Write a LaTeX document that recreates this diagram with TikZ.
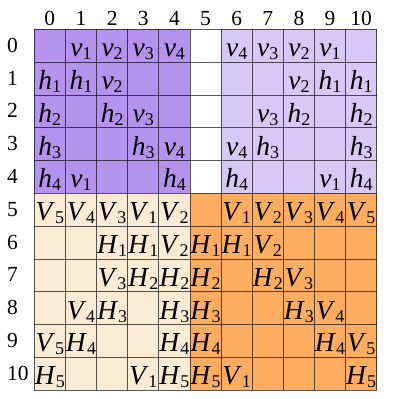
\documentclass[tikz,border=0pt]{standalone}
\usepackage{fontspec}
\setmainfont{Liberation Serif}
\definecolor{pdark}{RGB}{180,146,238}
\definecolor{plight}{RGB}{216,200,245}
\definecolor{cream}{RGB}{252,235,212}
\definecolor{orng}{RGB}{255,173,96}
\newcommand\lbl[2]{\textit{#1}\raisebox{-3pt}{\fontsize{18}{18}\selectfont #2}}
\tikzset{
  gridline/.style={draw=black, draw opacity=0.65, line width=0.7pt},
  celltext/.style={inner sep=0pt, anchor=base, font=\fontsize{27.5}{30}\selectfont},
  idxlabel/.style={inner sep=0pt, font=\fontsize{21.5}{24}\selectfont}
}
\begin{document}
\begin{tikzpicture}
\useasboundingbox (0pt,0pt) rectangle (399pt,-399pt);
\begin{scope}[shift={(34.3pt,-29.3pt)}, x=31.13pt, y=-32.8pt]
  \fill[pdark] (0,0) rectangle (5,5);
  \fill[plight] (6,0) rectangle (11,5);
  \fill[cream] (0,5) rectangle (5,11);
  \fill[orng] (5,5) rectangle (11,11);
  \foreach \i in {0,...,11} {
    \draw[gridline] (\i,0) -- (\i,11);
    \draw[gridline] (0,\i) -- (11,\i);
  }
  \foreach \c in {0,...,10}
    \node[idxlabel, anchor=base] (col\c) at ({\c+0.5},0) [yshift=4.3pt] {\c};
  \foreach \r/\c/\l/\s in {
    0/1/v/1, 0/2/v/2, 0/3/v/3, 0/4/v/4, 0/6/v/4, 0/7/v/3, 0/8/v/2, 0/9/v/1,
    1/0/h/1, 1/1/h/1, 1/2/v/2, 1/8/v/2, 1/9/h/1, 1/10/h/1,
    2/0/h/2, 2/2/h/2, 2/3/v/3, 2/7/v/3, 2/8/h/2, 2/10/h/2,
    3/0/h/3, 3/3/h/3, 3/4/v/4, 3/6/v/4, 3/7/h/3, 3/10/h/3,
    4/0/h/4, 4/1/v/1, 4/4/h/4, 4/6/h/4, 4/9/v/1, 4/10/h/4,
    5/0/V/5, 5/1/V/4, 5/2/V/3, 5/3/V/1, 5/4/V/2, 5/6/V/1, 5/7/V/2, 5/8/V/3, 5/9/V/4, 5/10/V/5,
    6/2/H/1, 6/3/H/1, 6/4/V/2, 6/5/H/1, 6/6/H/1, 6/7/V/2,
    7/2/V/3, 7/3/H/2, 7/4/H/2, 7/5/H/2, 7/7/H/2, 7/8/V/3,
    8/1/V/4, 8/2/H/3, 8/4/H/3, 8/5/H/3, 8/8/H/3, 8/9/V/4,
    9/0/V/5, 9/1/H/4, 9/4/H/4, 9/5/H/4, 9/9/H/4, 9/10/V/5,
    10/0/H/5, 10/3/V/1, 10/4/H/5, 10/5/H/5, 10/6/V/1, 10/10/H/5}
    \node[celltext] (t\r-\c) at ({\c+0.5},{\r+1}) [yshift=5.5pt] {\lbl{\l}{\s}};
\end{scope}
\foreach \r in {0,...,10} {
  \pgfmathsetmacro\yy{-(29.3+32.8*\r+16.4+6.5)}
  \node[idxlabel, anchor=base west] (row\r) at (7pt,\yy pt) {\r};
}
\end{tikzpicture}
\end{document}
